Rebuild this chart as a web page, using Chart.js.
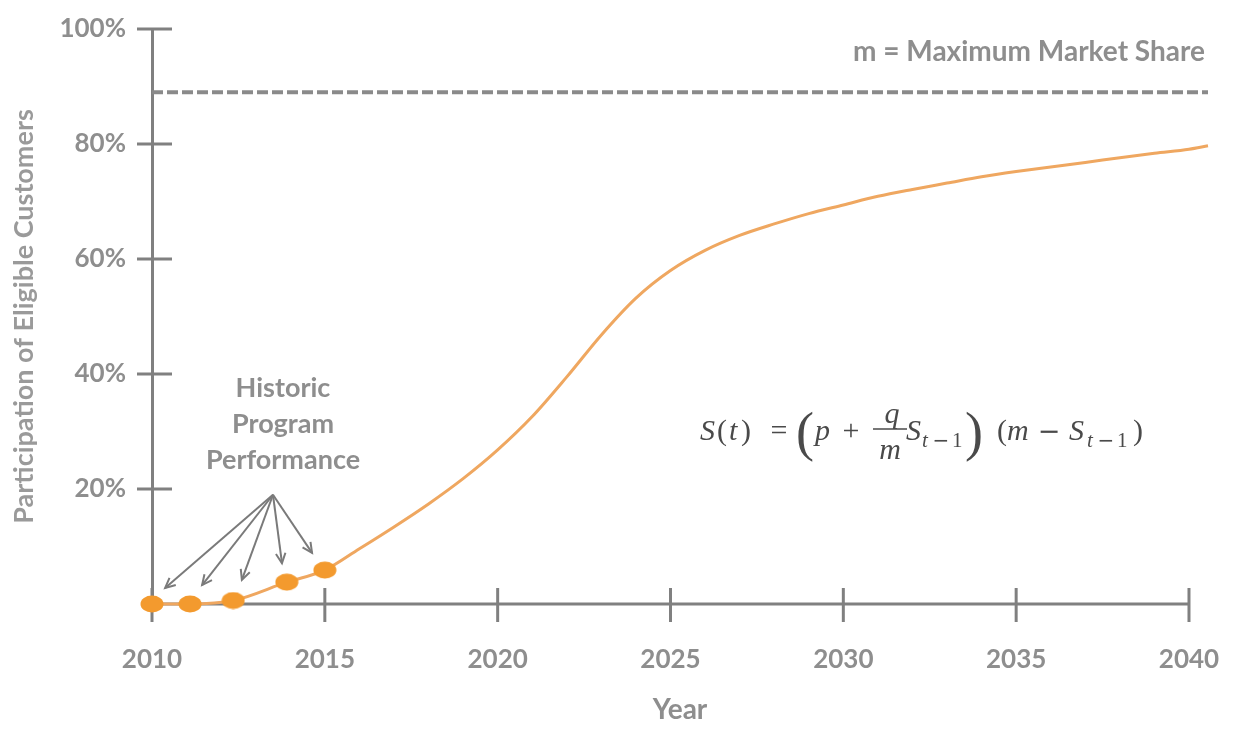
<!DOCTYPE html>
<html><head><meta charset="utf-8">
<script src="https://cdn.jsdelivr.net/npm/chart.js@4/dist/chart.umd.min.js"></script>
<style>html,body{margin:0;padding:0;background:#fff;overflow:hidden}#wrap{width:1243px;height:744px}</style>
</head><body><div id="wrap"><canvas id="c" width="1243" height="744"></canvas></div>
<script>
// ---- data ----
const curveYears = [2010, 2011.1, 2012.35, 2013.9, 2015, 2016, 2017, 2018, 2019, 2020, 2021, 2022, 2023, 2024, 2025, 2026, 2027, 2028, 2029, 2030, 2031, 2032, 2033, 2034, 2035, 2036, 2037, 2038, 2039, 2040, 2040.55];
const curveShare = [0, 0, 0.6, 3.8, 5.9, 9.6, 13.4, 17.4, 21.8, 26.8, 32.6, 39.5, 46.8, 53.2, 58.0, 61.5, 64.1, 66.1, 67.9, 69.4, 70.9, 72.1, 73.2, 74.3, 75.2, 76.0, 76.8, 77.6, 78.4, 79.1, 79.7];
const historicYears = [2010, 2011.1, 2012.35, 2013.9, 2015];
const historicShare = [0, 0, 0.6, 3.8, 5.9];
const maxShareYears = [2010, 2040.55];
const maxShare = [89, 89];
const xTickValues = [2010, 2015, 2020, 2025, 2030, 2035, 2040];
const yTickValues = [20, 40, 60, 80, 100];
const arrowOrigin = {x: 2013.5, y: 19.0};
const arrowTipYears = [2010.38, 2011.45, 2012.6, 2013.76, 2014.63];
const arrowTipShares = [2.8, 3.3, 4.2, 7.1, 8.9];
const historicLabel = ['Historic', 'Program', 'Performance'];
const maxLabel = 'm = Maximum Market Share';

// ---- style ----
const axisColor = '#808080';
const textColor = '#8e8e8e';
const orange = '#F39A2E';
const curveColor = '#EFA760';
const FONT = 'Lato, "Open Sans", sans-serif';

// elliptical marker (the reference markers are slightly wider than tall)
const marker = document.createElement('canvas');
marker.width = 24; marker.height = 18;
(function () {
  const m = marker.getContext('2d');
  m.fillStyle = orange;
  m.beginPath(); m.ellipse(12, 9, 11.5, 8.5, 0, 0, Math.PI * 2); m.fill();
})();

const decor = {
  id: 'decor',
  beforeDatasetsDraw(chart) {
    const {ctx, scales: {x, y}} = chart;
    ctx.save();
    ctx.strokeStyle = axisColor;
    ctx.lineWidth = 3;
    ctx.lineCap = 'butt';
    const x0 = x.getPixelForValue(xTickValues[0]);
    const x1 = x.getPixelForValue(xTickValues[xTickValues.length - 1]);
    const yb = y.getPixelForValue(0);
    ctx.beginPath(); ctx.moveTo(x0, yb); ctx.lineTo(x1, yb); ctx.stroke();
    xTickValues.forEach(v => {
      const px = x.getPixelForValue(v);
      ctx.beginPath(); ctx.moveTo(px, yb - 16); ctx.lineTo(px, yb + 18); ctx.stroke();
    });
    yTickValues.forEach(v => {
      const py = y.getPixelForValue(v);
      ctx.beginPath(); ctx.moveTo(x0 - 15, py); ctx.lineTo(x0 + 20, py); ctx.stroke();
    });
    ctx.restore();
  },
  afterDraw(chart) {
    const {ctx, scales: {x, y}} = chart;
    ctx.save();
    // arrows
    ctx.strokeStyle = '#7a7a7a';
    ctx.lineWidth = 2;
    const ox = x.getPixelForValue(arrowOrigin.x), oy = y.getPixelForValue(arrowOrigin.y);
    arrowTipYears.forEach((yr, i) => {
      const tx = x.getPixelForValue(yr), ty = y.getPixelForValue(arrowTipShares[i]);
      ctx.beginPath(); ctx.moveTo(ox, oy); ctx.lineTo(tx, ty); ctx.stroke();
      const ang = Math.atan2(ty - oy, tx - ox);
      const L = 11, A = 0.45;
      ctx.beginPath();
      ctx.moveTo(tx - L * Math.cos(ang - A), ty - L * Math.sin(ang - A));
      ctx.lineTo(tx, ty);
      ctx.lineTo(tx - L * Math.cos(ang + A), ty - L * Math.sin(ang + A));
      ctx.stroke();
    });
    // historic label
    ctx.fillStyle = textColor;
    ctx.font = 'bold 27px ' + FONT;
    ctx.textAlign = 'center';
    ctx.textBaseline = 'middle';
    historicLabel.forEach((t, i) => ctx.fillText(t, ox + 10, 388 + i * 36));
    // max label
    ctx.font = 'bold 28px ' + FONT;
    ctx.textAlign = 'right';
    ctx.fillText(maxLabel, 1205, 52);
    // formula
    ctx.fillStyle = '#4a4a4a';
    ctx.strokeStyle = '#4a4a4a';
    ctx.textBaseline = 'alphabetic';
    const it = 'italic 30px "Liberation Serif"';
    const up = '30px "Liberation Serif"';
    const subIt = 'italic 21px "Liberation Serif"';
    const subUp = '21px "Liberation Serif"';
    const minusSub = '20px "DejaVu Sans"';
    const minusMain = '27px "DejaVu Sans"';
    const big = '54px "Liberation Serif"';
    const bl = 440;
    function put(t, f, px, py, al) { ctx.font = f; ctx.textAlign = al || 'left'; ctx.fillText(t, px, py); }
    put('S', it, 700, bl);
    put('(', up, 717, bl);
    put('t', it, 729, bl);
    put(')', up, 741, bl);
    put('=', up, 779, bl, 'center');
    put('(', big, 796, bl + 10);
    put('p', it, 815, bl);
    put('+', up, 851, bl, 'center');
    put('q', it, 892, bl - 17, 'center');
    ctx.lineWidth = 1.5;
    ctx.beginPath(); ctx.moveTo(873, bl - 11); ctx.lineTo(907, bl - 11); ctx.stroke();
    put('m', it, 890, bl + 19, 'center');
    put('S', it, 906, bl);
    put('t', subIt, 922, bl + 7);
    put('\u2212', minusSub, 941, bl + 7, 'center');
    put('1', subUp, 952, bl + 7);
    put(')', big, 965, bl + 10);
    put('(', up, 997, bl);
    put('m', it, 1007, bl);
    put('\u2212', minusMain, 1049, bl, 'center');
    put('S', it, 1069, bl);
    put('t', subIt, 1087, bl + 7);
    put('\u2212', minusSub, 1106, bl + 7, 'center');
    put('1', subUp, 1117, bl + 7);
    put(')', up, 1133, bl);
    ctx.restore();
  }
};

const curvePts = curveYears.map((v, i) => ({x: v, y: curveShare[i]}));
const histPts = historicYears.map((v, i) => ({x: v, y: historicShare[i]}));
const maxPts = maxShareYears.map((v, i) => ({x: v, y: maxShare[i]}));

new Chart(document.getElementById('c'), {
  type: 'line',
  data: {
    datasets: [
      {label: 'Historic', data: histPts, showLine: false, pointStyle: marker, pointRadius: 10, pointHoverRadius: 10,
       pointBackgroundColor: orange, pointBorderWidth: 0, clip: false},
      {label: 'Forecast', data: curvePts, borderColor: curveColor, borderWidth: 3, pointRadius: 0,
       cubicInterpolationMode: 'monotone', fill: false, clip: false},
      {label: 'Maximum', data: maxPts, borderColor: '#8a8a8a', borderWidth: 4, borderDash: [11, 4],
       pointRadius: 0, fill: false, clip: false}
    ]
  },
  options: {
    responsive: false,
    animation: false,
    devicePixelRatio: 1,
    layout: {autoPadding: false, padding: {top: 29, right: 35, bottom: 0, left: 0}},
    plugins: {legend: {display: false}, tooltip: {enabled: false}},
    scales: {
      x: {
        type: 'linear', min: 2010, max: 2040.55,
        afterFit: s => { s.height = 140; s.paddingLeft = 0; s.paddingRight = 0; },
        afterBuildTicks: s => { s.ticks = xTickValues.map(v => ({value: v})); },
        grid: {display: false, drawTicks: false},
        border: {display: false},
        ticks: {color: textColor, font: {family: FONT, size: 26, weight: 'bold'}, padding: 40,
                maxRotation: 0, autoSkip: false, callback: v => String(v)},
        title: {display: true, text: 'Year', color: textColor, font: {family: FONT, size: 28, weight: 'bold'},
                padding: {top: 0, bottom: 17}}
      },
      y: {
        type: 'linear', min: 0, max: 100,
        afterFit: s => { s.width = 152; s.paddingTop = 0; s.paddingBottom = 0; },
        afterBuildTicks: s => { s.ticks = [0].concat(yTickValues).map(v => ({value: v})); },
        grid: {display: false, drawTicks: false},
        border: {display: true, color: axisColor, width: 3},
        ticks: {color: textColor, font: {family: FONT, size: 26, weight: 'bold'}, padding: 26,
                callback: v => v === 0 ? '' : v + '%'},
        title: {display: true, text: 'Participation of Eligible Customers', color: '#9a9a9a',
                font: {family: FONT, size: 27, weight: 'bold'}, padding: {top: 8, bottom: 0}}
      }
    }
  },
  plugins: [decor]
});
</script></body></html>
